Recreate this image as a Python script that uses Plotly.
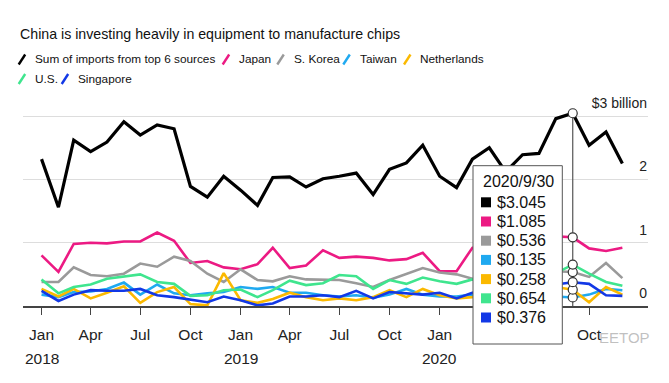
import pandas as pd
import plotly.graph_objects as go

# ---------------- data ----------------
months = pd.date_range("2018-01-01", periods=36, freq="MS")

total = [2.32, 1.56, 2.62, 2.44, 2.59, 2.91, 2.70, 2.86, 2.80, 1.89, 1.72, 2.05,
         1.83, 1.59, 2.03, 2.04, 1.88, 2.01, 2.05, 2.10, 1.76, 2.16, 2.26, 2.54,
         2.05, 1.87, 2.32, 2.50, 2.12, 2.39, 2.41, 2.96, 3.045, 2.54, 2.75, 2.25]
japan = [0.80, 0.54, 0.98, 1.00, 0.99, 1.02, 1.02, 1.16, 1.03, 0.68, 0.71, 0.61,
         0.58, 0.66, 0.92, 0.60, 0.64, 0.88, 0.76, 0.78, 0.76, 0.72, 0.74, 0.84,
         0.55, 0.55, 0.92, 1.00, 0.85, 0.95, 0.95, 1.10, 1.085, 0.91, 0.87, 0.92]
korea = [0.38, 0.38, 0.61, 0.49, 0.47, 0.51, 0.67, 0.62, 0.78, 0.71, 0.51, 0.38,
         0.58, 0.41, 0.39, 0.47, 0.42, 0.41, 0.41, 0.36, 0.30, 0.41, 0.51, 0.60,
         0.53, 0.50, 0.43, 0.45, 0.40, 0.45, 0.45, 0.55, 0.536, 0.46, 0.68, 0.44]
taiwan = [0.18, 0.14, 0.22, 0.23, 0.27, 0.37, 0.18, 0.34, 0.20, 0.17, 0.20, 0.22,
          0.30, 0.27, 0.30, 0.21, 0.21, 0.17, 0.15, 0.17, 0.13, 0.18, 0.27, 0.18,
          0.15, 0.15, 0.18, 0.20, 0.15, 0.18, 0.20, 0.15, 0.135, 0.18, 0.27, 0.25]
netherlands = [0.27, 0.15, 0.27, 0.12, 0.21, 0.31, 0.05, 0.22, 0.30, 0.03, 0.01, 0.52,
               0.09, 0.05, 0.11, 0.21, 0.14, 0.09, 0.12, 0.09, 0.14, 0.25, 0.14, 0.27,
               0.17, 0.12, 0.14, 0.20, 0.15, 0.20, 0.18, 0.30, 0.258, 0.06, 0.30, 0.18]
us = [0.42, 0.20, 0.30, 0.34, 0.43, 0.47, 0.50, 0.38, 0.35, 0.16, 0.17, 0.25,
      0.26, 0.14, 0.25, 0.40, 0.33, 0.36, 0.49, 0.47, 0.27, 0.41, 0.35, 0.45,
      0.39, 0.35, 0.42, 0.40, 0.35, 0.38, 0.40, 0.52, 0.654, 0.51, 0.38, 0.32]
singapore = [0.24, 0.08, 0.18, 0.25, 0.24, 0.24, 0.27, 0.17, 0.14, 0.10, 0.06, 0.15,
             0.09, 0.01, 0.04, 0.15, 0.15, 0.17, 0.14, 0.24, 0.12, 0.22, 0.20, 0.18,
             0.21, 0.12, 0.21, 0.25, 0.22, 0.23, 0.23, 0.34, 0.376, 0.35, 0.17, 0.16]

series_names = ["Sum of imports from top 6 sources", "Japan", "S. Korea", "Taiwan",
                "Netherlands", "U.S.", "Singapore"]
series_values = [total, japan, korea, taiwan, netherlands, us, singapore]
series_colors = ["#000000", "#ec1a83", "#9a9a9a", "#1fa9f0", "#fbb900", "#3fe58e", "#1238e6"]

tick_dates = pd.date_range("2018-01-01", "2020-10-01", freq="QS")
# Apr and Jul 2020 labels sit under the tooltip box in the reference
tick_months = ["Jan", "Apr", "Jul", "Oct", "Jan", "Apr", "Jul", "Oct", "Jan", "", "", "Oct"]
year_dates = ["2018-01-01", "2019-01-01", "2020-01-01"]
year_labels = ["2018", "2019", "2020"]
y_tickvals = [0, 1, 2, 3]
y_ticktext = ["0", "1", "2", "$3 billion"]
hover_index = 32
hover_label = "2020/9/30"
title_text = "China is investing heavily in equipment to manufacture chips"

# ---------------- layout helpers ----------------
W, H = 669, 383
L, R, T, B = 23, 648, 88, 306
PX_PER_UNIT = 63.3
def fx(px):
    return (px - L) / (R - L)
def fy(py):
    return (B - py) / (B - T)

FONT = "Liberation Sans, Arial, sans-serif"

fig = go.Figure()

# draw colored lines first, total on top
order = [1, 2, 3, 4, 5, 6, 0]
for i in order:
    fig.add_trace(go.Scatter(
        x=months, y=series_values[i], mode="lines", name=series_names[i],
        line=dict(color=series_colors[i], width=3.2 if i == 0 else 2.6),
        hoverinfo="skip", showlegend=False))

# hover vertical line and markers
hx = months[hover_index]
fig.add_trace(go.Scatter(x=[hx, hx], y=[0, total[hover_index]], mode="lines",
                         line=dict(color="#555555", width=1.2), hoverinfo="skip",
                         showlegend=False))
fig.add_trace(go.Scatter(
    x=[hx] * 7, y=[v[hover_index] for v in series_values], mode="markers",
    marker=dict(symbol="circle", size=9, color="white", line=dict(color="#333", width=1.2)),
    hoverinfo="skip", showlegend=False))

shapes = []
annotations = []

# title
annotations.append(dict(text=title_text, x=fx(18), y=fy(33.5), xref="paper", yref="paper",
                        xanchor="left", yanchor="middle", showarrow=False,
                        font=dict(family=FONT, size=14.2, color="#111")))

# legend (slash + text)
legend_pos = [  # slash_x, row_y, text_x
    (18.7, 59.5, 33.3), (222.7, 59.5, 237.3), (277.3, 59.5, 292.3), (343.3, 59.5, 358.3),
    (404.0, 59.5, 418.3), (18.7, 79.0, 33.3), (61.7, 79.0, 76.0)]
for (sx, ry, tx), name, col in zip(legend_pos, series_names, series_colors):
    shapes.append(dict(type="line", xref="paper", yref="paper",
                       x0=fx(sx), y0=fy(ry + 5), x1=fx(sx + 6.5), y1=fy(ry - 5),
                       line=dict(color=col, width=2.4)))
    annotations.append(dict(text=name, x=fx(tx), y=fy(ry), xref="paper", yref="paper",
                            xanchor="left", yanchor="middle", showarrow=False,
                            font=dict(family=FONT, size=11.8, color="#111")))

# year labels
for d, lab in zip(year_dates, year_labels):
    annotations.append(dict(text=lab, x=d, y=fy(358), xref="x", yref="paper",
                            xanchor="center", yanchor="middle", showarrow=False,
                            font=dict(family=FONT, size=15.5, color="#222")))

# tooltip box
shapes.append(dict(type="rect", xref="paper", yref="paper", layer="above",
                   x0=fx(473), x1=fx(562.3), y0=fy(344), y1=fy(165.7),
                   fillcolor="white", line=dict(color="#555", width=1)))
annotations.append(dict(text=hover_label, x=fx(480.5), y=fy(181.7), xref="paper", yref="paper",
                        xanchor="left", yanchor="middle", showarrow=False,
                        font=dict(family=FONT, size=16, color="#111")))
row_y0, row_dy = 202.3, 19.2
for k, (vals, col) in enumerate(zip(series_values, series_colors)):
    cy = row_y0 + k * row_dy
    shapes.append(dict(type="rect", xref="paper", yref="paper", layer="above",
                       x0=fx(481), x1=fx(491), y0=fy(cy + 5), y1=fy(cy - 5),
                       fillcolor=col, line=dict(width=0)))
    annotations.append(dict(text=f"${vals[hover_index]:.3f}", x=fx(494.5), y=fy(cy),
                            xref="paper", yref="paper", xanchor="left", yanchor="middle",
                            showarrow=False, font=dict(family=FONT, size=16, color="#111")))

# watermark
annotations.append(dict(text="EETOP", x=fx(652), y=fy(337), xref="paper", yref="paper",
                        xanchor="right", yanchor="middle", showarrow=False,
                        font=dict(family=FONT, size=15, color="rgba(150,150,150,0.6)")))

fig.update_layout(
    width=W, height=H,
    margin=dict(l=L, r=W - R, t=T, b=H - B),
    paper_bgcolor="white", plot_bgcolor="white",
    showlegend=False,
    shapes=shapes, annotations=annotations,
    xaxis=dict(type="date", range=["2017-11-28", "2021-01-17"],
               tickvals=list(tick_dates), ticktext=tick_months,
               ticks="outside", ticklen=7, tickwidth=1.3, tickcolor="#444",
               showline=True, linecolor="#444", linewidth=1.5,
               showgrid=False, zeroline=False, ticklabelstandoff=7,
               tickfont=dict(family=FONT, size=15.5, color="#222")),
    yaxis=dict(range=[0, (B - T) / PX_PER_UNIT], side="right", ticklabelposition="inside",
               tickvals=y_tickvals, ticktext=y_ticktext, ticks="",
               showgrid=True, gridcolor="#dddddd", gridwidth=1, zeroline=False,
               showline=False, ticklabelshift=-13, ticklabelstandoff=-2,
               tickfont=dict(family=FONT, size=14, color="#222")),
)

fig.write_html("out.html", config={"displayModeBar": False},
               post_script="document.body.style.margin='0';")
